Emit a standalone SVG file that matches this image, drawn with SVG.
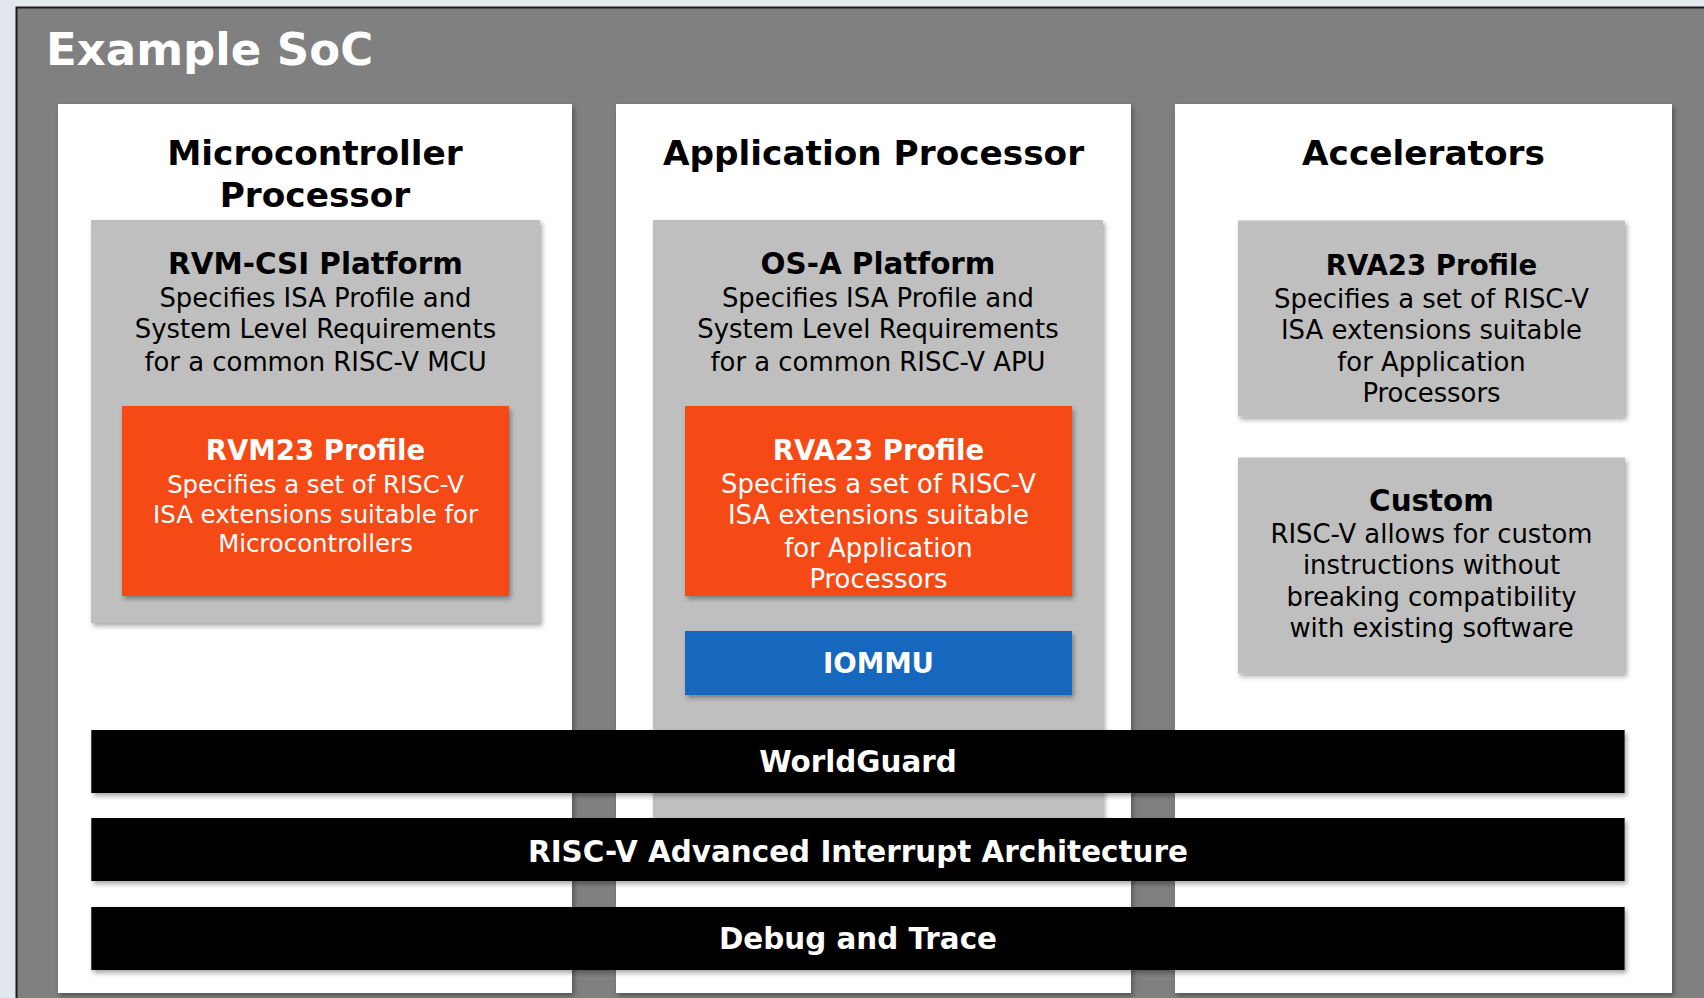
<svg xmlns="http://www.w3.org/2000/svg" width="1704" height="998" viewBox="0 0 1704 998">
  <defs>
    <filter id="shadow" x="-5%" y="-5%" width="112%" height="115%">
      <feDropShadow dx="2" dy="3" stdDeviation="2.5" flood-color="#000" flood-opacity="0.35"/>
    </filter>
    <style>
      .panel { fill: #ffffff; filter: url(#shadow); }
      .platform { fill: #bfbfbf; filter: url(#shadow); }
      .profile { fill: #f54a15; filter: url(#shadow); }
      .iommu { fill: #1868bf; filter: url(#shadow); }
      .bar { fill: #000000; filter: url(#shadow); }
      text { font-family: "DejaVu Sans", "Liberation Sans", sans-serif; text-anchor: middle; }
      .title { font-weight: 700; font-size: 45px; fill: #ffffff; text-anchor: start; }
      .head { font-weight: 700; font-size: 34.3px; fill: #000000; }
      .box-title { font-weight: 700; font-size: 29.4px; fill: #000000; }
      .prof-title { font-weight: 700; font-size: 27.6px; }
      .body { font-size: 25.9px; fill: #000000; }
      .body-sm { font-size: 24.4px; }
      .white { fill: #ffffff; }
      .bar-text { font-weight: 700; font-size: 29.4px; fill: #ffffff; }
    </style>
  </defs>

  <!-- page background and SoC frame -->
  <rect x="0" y="0" width="1704" height="998" fill="#e3e8ee"/>
  <rect x="16.5" y="7.5" width="1700" height="1000" fill="#808080" stroke="#1a1a1a" stroke-width="2"/>
  <text class="title" x="46" y="65">Example SoC</text>

  <!-- Microcontroller column -->
  <g id="mcu-processor">
    <rect class="panel" x="58" y="104" width="514" height="889"/>
    <text class="head" x="315" y="165">Microcontroller</text>
    <text class="head" x="315" y="206.7">Processor</text>
  </g>
  <g id="rvm-csi-platform">
    <rect class="platform" x="91" y="220" width="449" height="403"/>
    <text class="box-title" x="315.5" y="274.3">RVM-CSI Platform</text>
    <text class="body" x="315.5" y="306.7">Specifies ISA Profile and</text>
    <text class="body" x="315.5" y="338.3">System Level Requirements</text>
    <text class="body" x="315.5" y="371">for a common RISC-V MCU</text>
  </g>
  <g id="rvm23-profile">
    <rect class="profile" x="122" y="406" width="387" height="190"/>
    <text class="prof-title white" x="315.5" y="460">RVM23 Profile</text>
    <text class="body-sm white" x="315.5" y="493.3">Specifies a set of RISC-V</text>
    <text class="body-sm white" x="315.5" y="523.3">ISA extensions suitable for</text>
    <text class="body-sm white" x="315.5" y="552">Microcontrollers</text>
  </g>

  <!-- Application processor column -->
  <g id="application-processor">
    <rect class="panel" x="616" y="104" width="515" height="889"/>
    <text class="head" x="873.5" y="165">Application Processor</text>
  </g>
  <g id="os-a-platform">
    <rect class="platform" x="653" y="220" width="450" height="630"/>
    <text class="box-title" x="878" y="274.3">OS-A Platform</text>
    <text class="body" x="878" y="306.7">Specifies ISA Profile and</text>
    <text class="body" x="878" y="338.3">System Level Requirements</text>
    <text class="body" x="878" y="371">for a common RISC-V APU</text>
  </g>
  <g id="rva23-profile">
    <rect class="profile" x="685" y="406" width="387" height="190"/>
    <text class="prof-title white" x="878.5" y="460">RVA23 Profile</text>
    <text class="body white" x="878.5" y="492.7">Specifies a set of RISC-V</text>
    <text class="body white" x="878.5" y="524.3">ISA extensions suitable</text>
    <text class="body white" x="878.5" y="556.7">for Application</text>
    <text class="body white" x="878.5" y="588.3">Processors</text>
  </g>
  <g id="iommu">
    <rect class="iommu" x="685" y="631" width="387" height="64"/>
    <text class="prof-title white" x="878.5" y="672.7">IOMMU</text>
  </g>

  <!-- Accelerators column -->
  <g id="accelerators">
    <rect class="panel" x="1175" y="104" width="497" height="889"/>
    <text class="head" x="1423.5" y="165">Accelerators</text>
  </g>
  <g id="accel-rva23-profile">
    <rect class="platform" x="1238" y="220.5" width="387" height="196"/>
    <text class="prof-title" x="1431.5" y="275">RVA23 Profile</text>
    <text class="body" x="1431.5" y="307.6">Specifies a set of RISC-V</text>
    <text class="body" x="1431.5" y="339">ISA extensions suitable</text>
    <text class="body" x="1431.5" y="371.4">for Application</text>
    <text class="body" x="1431.5" y="402">Processors</text>
  </g>
  <g id="custom">
    <rect class="platform" x="1238" y="457.5" width="387" height="216"/>
    <text class="box-title" x="1431.5" y="510.7">Custom</text>
    <text class="body" x="1431.5" y="543">RISC-V allows for custom</text>
    <text class="body" x="1431.5" y="573.6">instructions without</text>
    <text class="body" x="1431.5" y="606">breaking compatibility</text>
    <text class="body" x="1431.5" y="637.4">with existing software</text>
  </g>

  <!-- shared system-level blocks spanning all columns -->
  <g id="worldguard">
    <rect class="bar" x="91.3" y="730" width="1533.3" height="63"/>
    <text class="bar-text" x="858" y="771.7">WorldGuard</text>
  </g>
  <g id="aia">
    <rect class="bar" x="91.3" y="818" width="1533.3" height="63"/>
    <text class="bar-text" x="858" y="861.7">RISC-V Advanced Interrupt Architecture</text>
  </g>
  <g id="debug-trace">
    <rect class="bar" x="91.3" y="907" width="1533.3" height="63"/>
    <text class="bar-text" x="858" y="949">Debug and Trace</text>
  </g>

  <g id="connectors"/>
</svg>
